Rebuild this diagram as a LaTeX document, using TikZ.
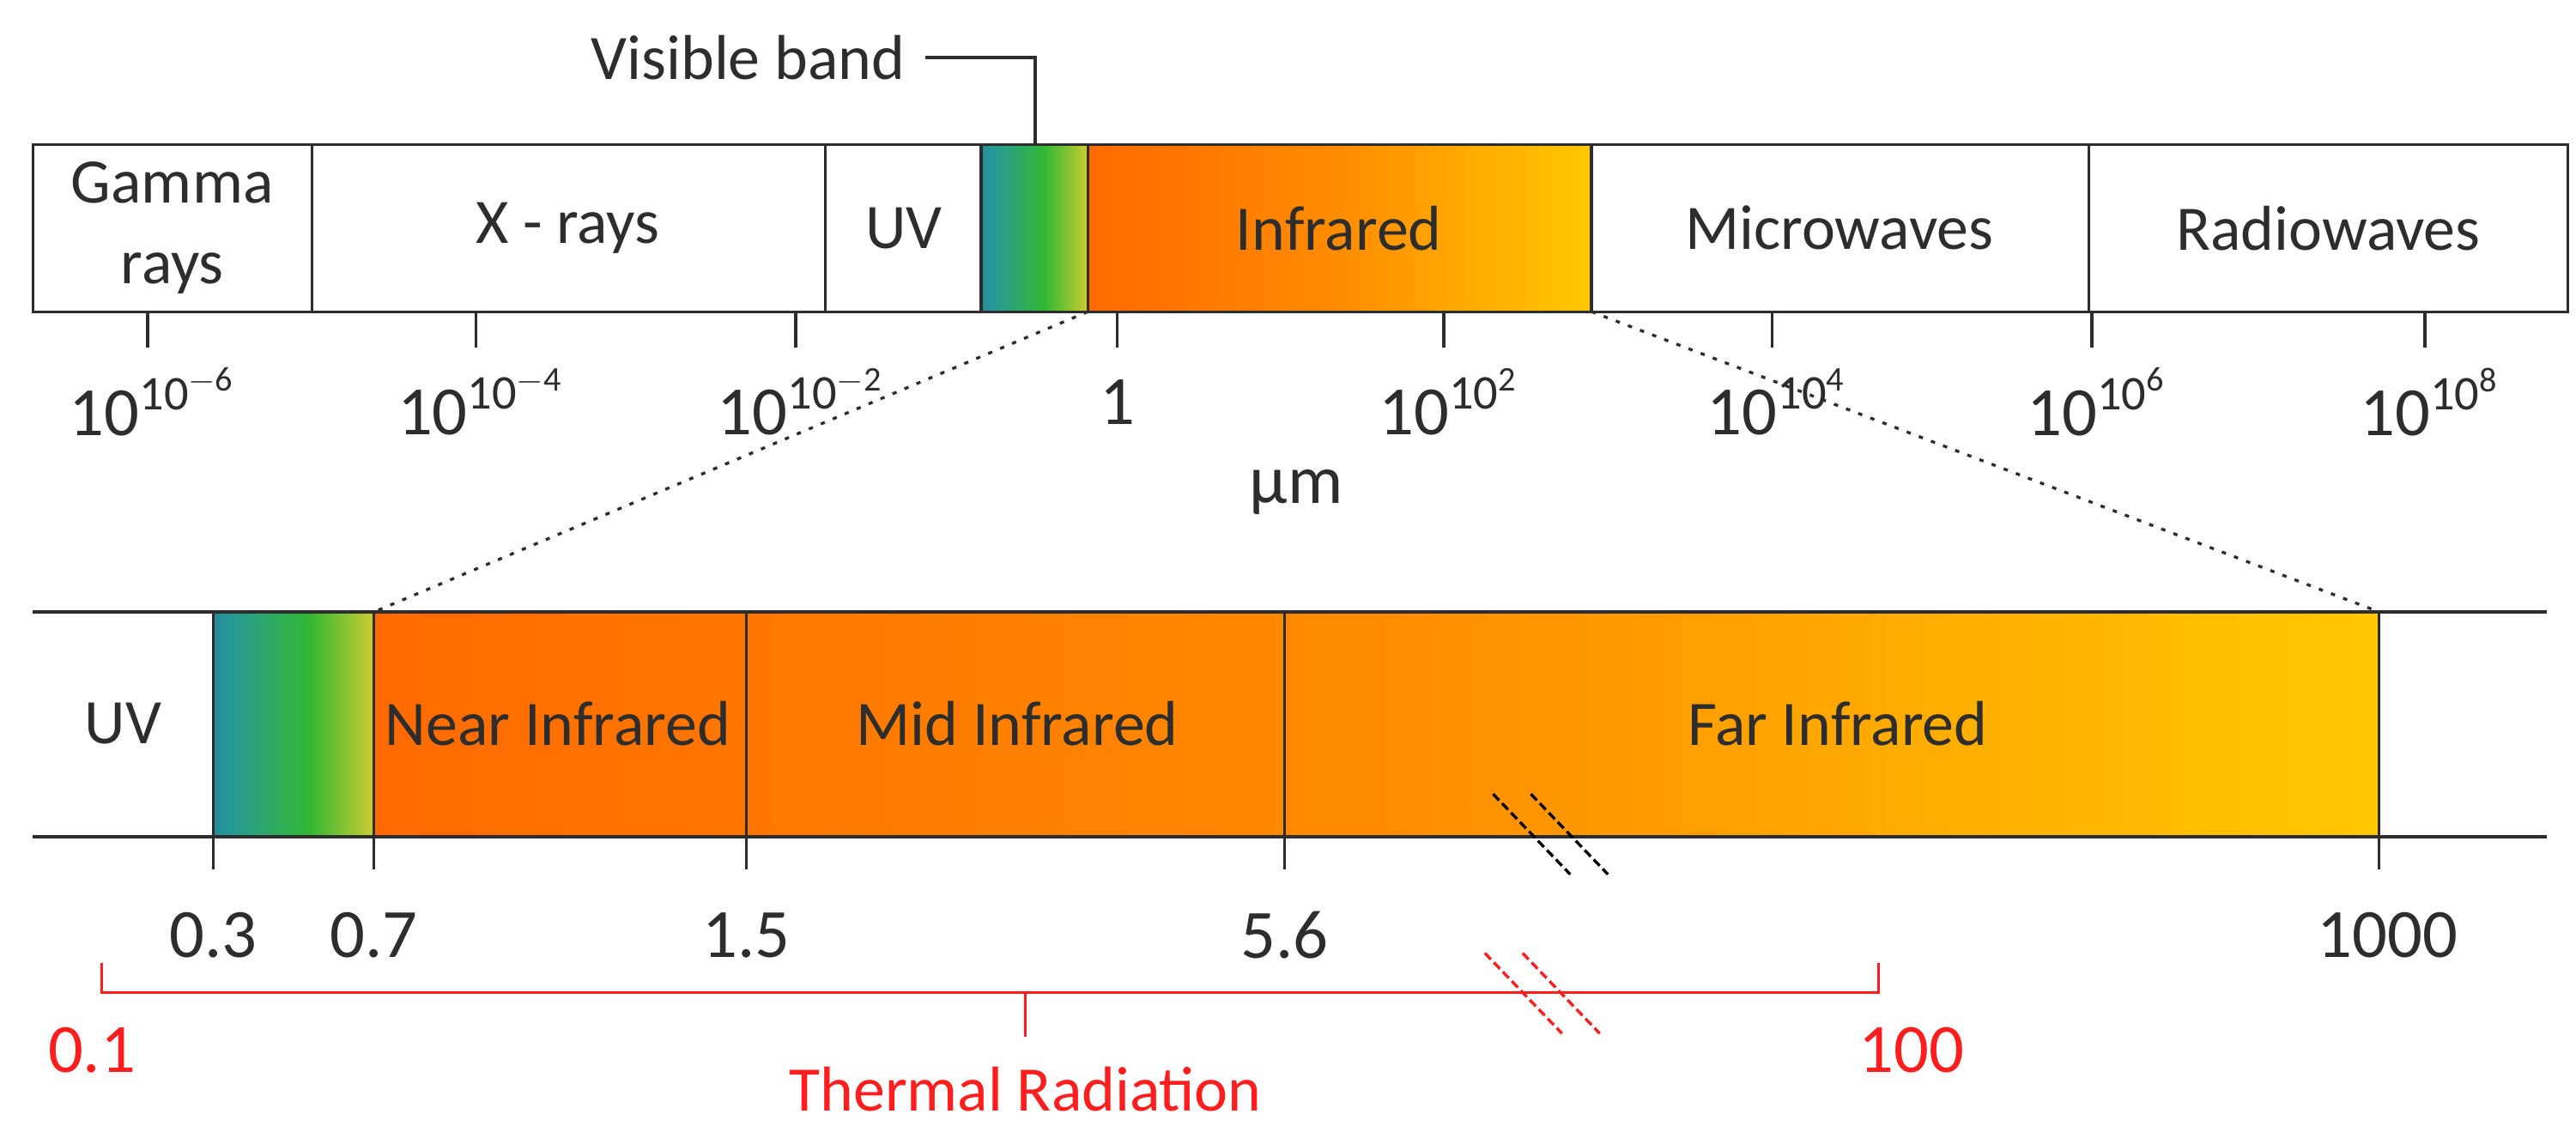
\documentclass[tikz,border=0pt]{standalone}
\usepackage{fontspec}
\setmainfont{Carlito}
\usetikzlibrary{calc}
\definecolor{ln}{RGB}{45,45,45}
\definecolor{irA}{RGB}{255,106,0}
\definecolor{irB}{RGB}{255,140,0}
\definecolor{irC}{RGB}{255,200,0}
\definecolor{red1}{RGB}{255,30,30}
\pgfdeclarehorizontalshading{vis}{100bp}{rgb(0bp)=(0.16,0.2,0.5); rgb(30bp)=(0.15,0.6,0.6); rgb(55bp)=(0.2,0.72,0.2); rgb(75bp)=(0.8,0.8,0.2); rgb(90bp)=(0.82,0.45,0.25); rgb(100bp)=(0.88,0.15,0.12)}
\begin{document}
\begin{tikzpicture}[x=0.02cm,y=-0.02cm,
  lbl/.style={font=\fontsize{22}{26}\selectfont, text=ln, inner sep=0pt},
  ticklbl/.style={font=\fontsize{24}{28}\selectfont, text=ln, inner sep=0pt},
  redlbl/.style={font=\fontsize{24}{28}\selectfont, text=red1, inner sep=0pt},
  box/.style={draw=ln, line width=1pt},
  dots/.style={ln, line width=1pt, dash pattern=on 1.5pt off 3pt},
  brk/.style={line width=1pt, dash pattern=on 3pt off 1.5pt}]
\useasboundingbox (0,0) rectangle (1570,690);
% top bar
\shade[shading=vis] (598,88) rectangle (663,190);
\shade[left color=irA, right color=irC, middle color=irB] (663,88) rectangle (970,190);
\draw[box] (20,88) rectangle (1565,190);
\foreach \x in {190,503,598,663,970,1273} \draw[box] (\x,88) -- (\x,190);
\node[lbl, align=center] (g) at (105,139) {Gamma\\[2pt]rays};
\node[lbl] (xr) at (346,139) {X - rays};
\node[lbl] (uv1) at (551,139) {UV};
\node[lbl] (ir) at (816,139) {Infrared};
\node[lbl] (mw) at (1121,139) {Microwaves};
\node[lbl] (rw) at (1419,139) {Radiowaves};
% visible band label
\node[lbl, anchor=east] (vb) at (552,35) {Visible band};
\coordinate (vt) at (631,88);
\draw[ln, line width=1pt] (vb.east) ++(12,0) -| (vt);
% ticks
\foreach \x/\t in {90/10^{-6},290/10^{-4},485/10^{-2},880/10^{2},1080/10^{4},1275/10^{6},1478/10^{8}} {
  \draw[ln, line width=1pt] (\x,190) -- (\x,212);
  \node[ticklbl] at (\x+3,245) {$\mathrm{10}^{\scriptstyle\mathrm{\t}}$};
}
\draw[ln, line width=1pt] (681,190) -- (681,212);
\node[ticklbl] (one) at (681,245) {1};
\node[ticklbl] (um) at (790,300) {μm};
% bottom bar
\shade[shading=vis] (130,373) rectangle (228,510);
\shade[left color=irA, right color=irC, middle color=irB] (228,373) rectangle (1450,510);
\draw[box] (20,373) -- (1552,373);
\draw[box] (20,510) -- (1552,510);
\foreach \x in {130,228,455,783,1450} \draw[box] (\x,373) -- (\x,530);
\node[lbl] (uv2) at (75,441) {UV};
\node[lbl] (nir) at (340,441) {Near Infrared};
\node[lbl] (mir) at (620,441) {Mid Infrared};
\node[lbl] (fir) at (1120,441) {Far Infrared};
\foreach \x/\t in {130/0.3,228/0.7,455/1.5,783/5.6,1455/1000}
  \node[ticklbl] at (\x,570) {\t};
% zoom lines
\draw[dots] (663,190) -- (228,373);
\draw[dots] (970,190) -- (1450,373);
% breaks
\draw[brk, black] (910,484) -- (957,533);
\draw[brk, black] (933,484) -- (980,533);
% thermal bracket
\draw[red1, line width=1pt] (62,587) -- (62,605) -- (1145,605) -- (1145,587);
\draw[red1, line width=1pt] (625,605) -- (625,632);
\draw[brk, red1] (905,581) -- (952,630);
\draw[brk, red1] (928,581) -- (975,630);
\node[redlbl] (lo) at (56,640) {0.1};
\node[redlbl] (hi) at (1165,640) {100};
\node[redlbl, font=\fontsize{22}{26}\selectfont] (tr) at (625,664) {Thermal Radiation};
\end{tikzpicture}
\end{document}
